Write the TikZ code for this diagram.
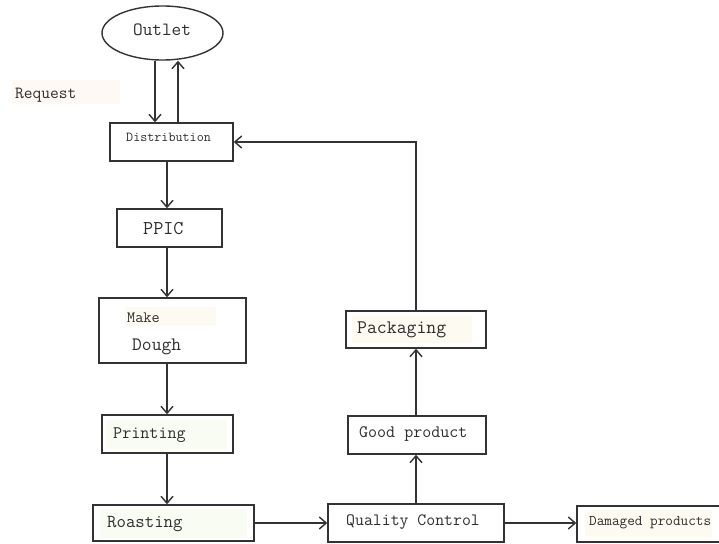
\documentclass[tikz,border=0pt]{standalone}
\usetikzlibrary{arrows.meta,shapes.geometric}
\definecolor{ink}{HTML}{333333}
\definecolor{txt}{HTML}{2E2E2E}
\definecolor{peach}{HTML}{FEF9F4}
\definecolor{cream}{HTML}{FDFAF1}
\definecolor{mint}{HTML}{F9FCF3}
\begin{document}
\begin{tikzpicture}[x=1pt,y=-1pt,
  box/.style={draw=ink,line width=1.4pt,rectangle,inner sep=0pt},
  lbl/.style={anchor=base west,inner sep=0pt,text=txt,font=\ttfamily},
  arr/.style={draw=ink,line width=1.4pt,-{Straight Barb[length=7pt,width=12pt,line width=1.4pt]}}]
\useasboundingbox (0,0) rectangle (719,543);
% faint highlights
\fill[peach] (12,80) rectangle (120,104);
\fill[cream] (125,307) rectangle (216,326);
\fill[mint] (106,420) rectangle (227,449);
\fill[mint] (100,509) rectangle (247,538);
\fill[cream] (352,316) rectangle (472,343);
\fill[cream] (585,510) rectangle (712,537);
% boxes
\node[draw=ink,line width=1.4pt,ellipse,minimum width=121pt,minimum height=54pt,inner sep=0pt] (outlet) at (162.5,33) {};
\node[box,minimum width=123pt,minimum height=38pt] (dist) at (171.5,142) {};
\node[box,minimum width=105pt,minimum height=38pt] (ppic) at (169.5,228) {};
\node[box,minimum width=147pt,minimum height=65pt] (dough) at (172.5,330.5) {};
\node[box,minimum width=131pt,minimum height=38pt] (print) at (167.5,434) {};
\node[box,minimum width=161pt,minimum height=36pt] (roast) at (173.5,523) {};
\node[box,minimum width=140pt,minimum height=37pt] (pack) at (416,329.5) {};
\node[box,minimum width=138pt,minimum height=38pt] (good) at (417,435) {};
\node[box,minimum width=176pt,minimum height=38pt] (qc) at (416,523) {};
\node[box,minimum width=150pt,minimum height=36pt] (dmg) at (652,524) {};
% texts
\node[lbl,font=\fontsize{18.7}{20}\ttfamily] (toutlet) at (133,36) {Outlet};
\node[lbl,font=\fontsize{17}{20}\ttfamily] (treq) at (15,98) {Request};
\node[lbl,font=\fontsize{13.7}{16}\ttfamily] (tdist) at (126,141) {Distribution};
\node[lbl,font=\fontsize{19.6}{22}\ttfamily] (tppic) at (143,234) {PPIC};
\node[lbl,font=\fontsize{15.8}{18}\ttfamily] (tmake) at (127,322) {Make};
\node[lbl,font=\fontsize{19}{22}\ttfamily] (tdough) at (132,350) {Dough};
\node[lbl,font=\fontsize{17.6}{20}\ttfamily] (tprint) at (113,438.5) {Printing};
\node[lbl,font=\fontsize{18.3}{20}\ttfamily] (troast) at (107,527) {Roasting};
\node[lbl,font=\fontsize{19.2}{22}\ttfamily] (tpack) at (357,333) {Packaging};
\node[lbl,font=\fontsize{17.5}{20}\ttfamily] (tgood) at (359,437) {Good product};
\node[lbl,font=\fontsize{17.3}{20}\ttfamily] (tqc) at (346,525) {Quality Control};
\node[lbl,font=\fontsize{14.8}{17}\ttfamily] (tdmg) at (589,525) {Damaged products};
% columns
\coordinate (ca) at (155,0);
\coordinate (cb) at (178,0);
\coordinate (cl) at (167,0);
% connectors
\draw[arr] (outlet.south -| ca) -- (dist.north -| ca);
\draw[arr] (dist.north -| cb) -- (outlet.south -| cb);
\draw[arr] (dist.south -| cl) -- (ppic.north -| cl);
\draw[arr] (ppic.south -| cl) -- (dough.north -| cl);
\draw[arr] (dough.south -| cl) -- (print.north -| cl);
\draw[arr] (print.south -| cl) -- (roast.north -| cl);
\draw[arr] (roast.east) -- (qc.west);
\draw[arr] (qc.east) -- (qc.east -| dmg.west);
\draw[arr] (qc.north) -- (good.south -| qc.north);
\draw[arr] (good.north -| qc.north) -- (pack.south -| qc.north);
\draw[arr] (pack.north -| qc.north) |- (dist.east);
\end{tikzpicture}
\end{document}
